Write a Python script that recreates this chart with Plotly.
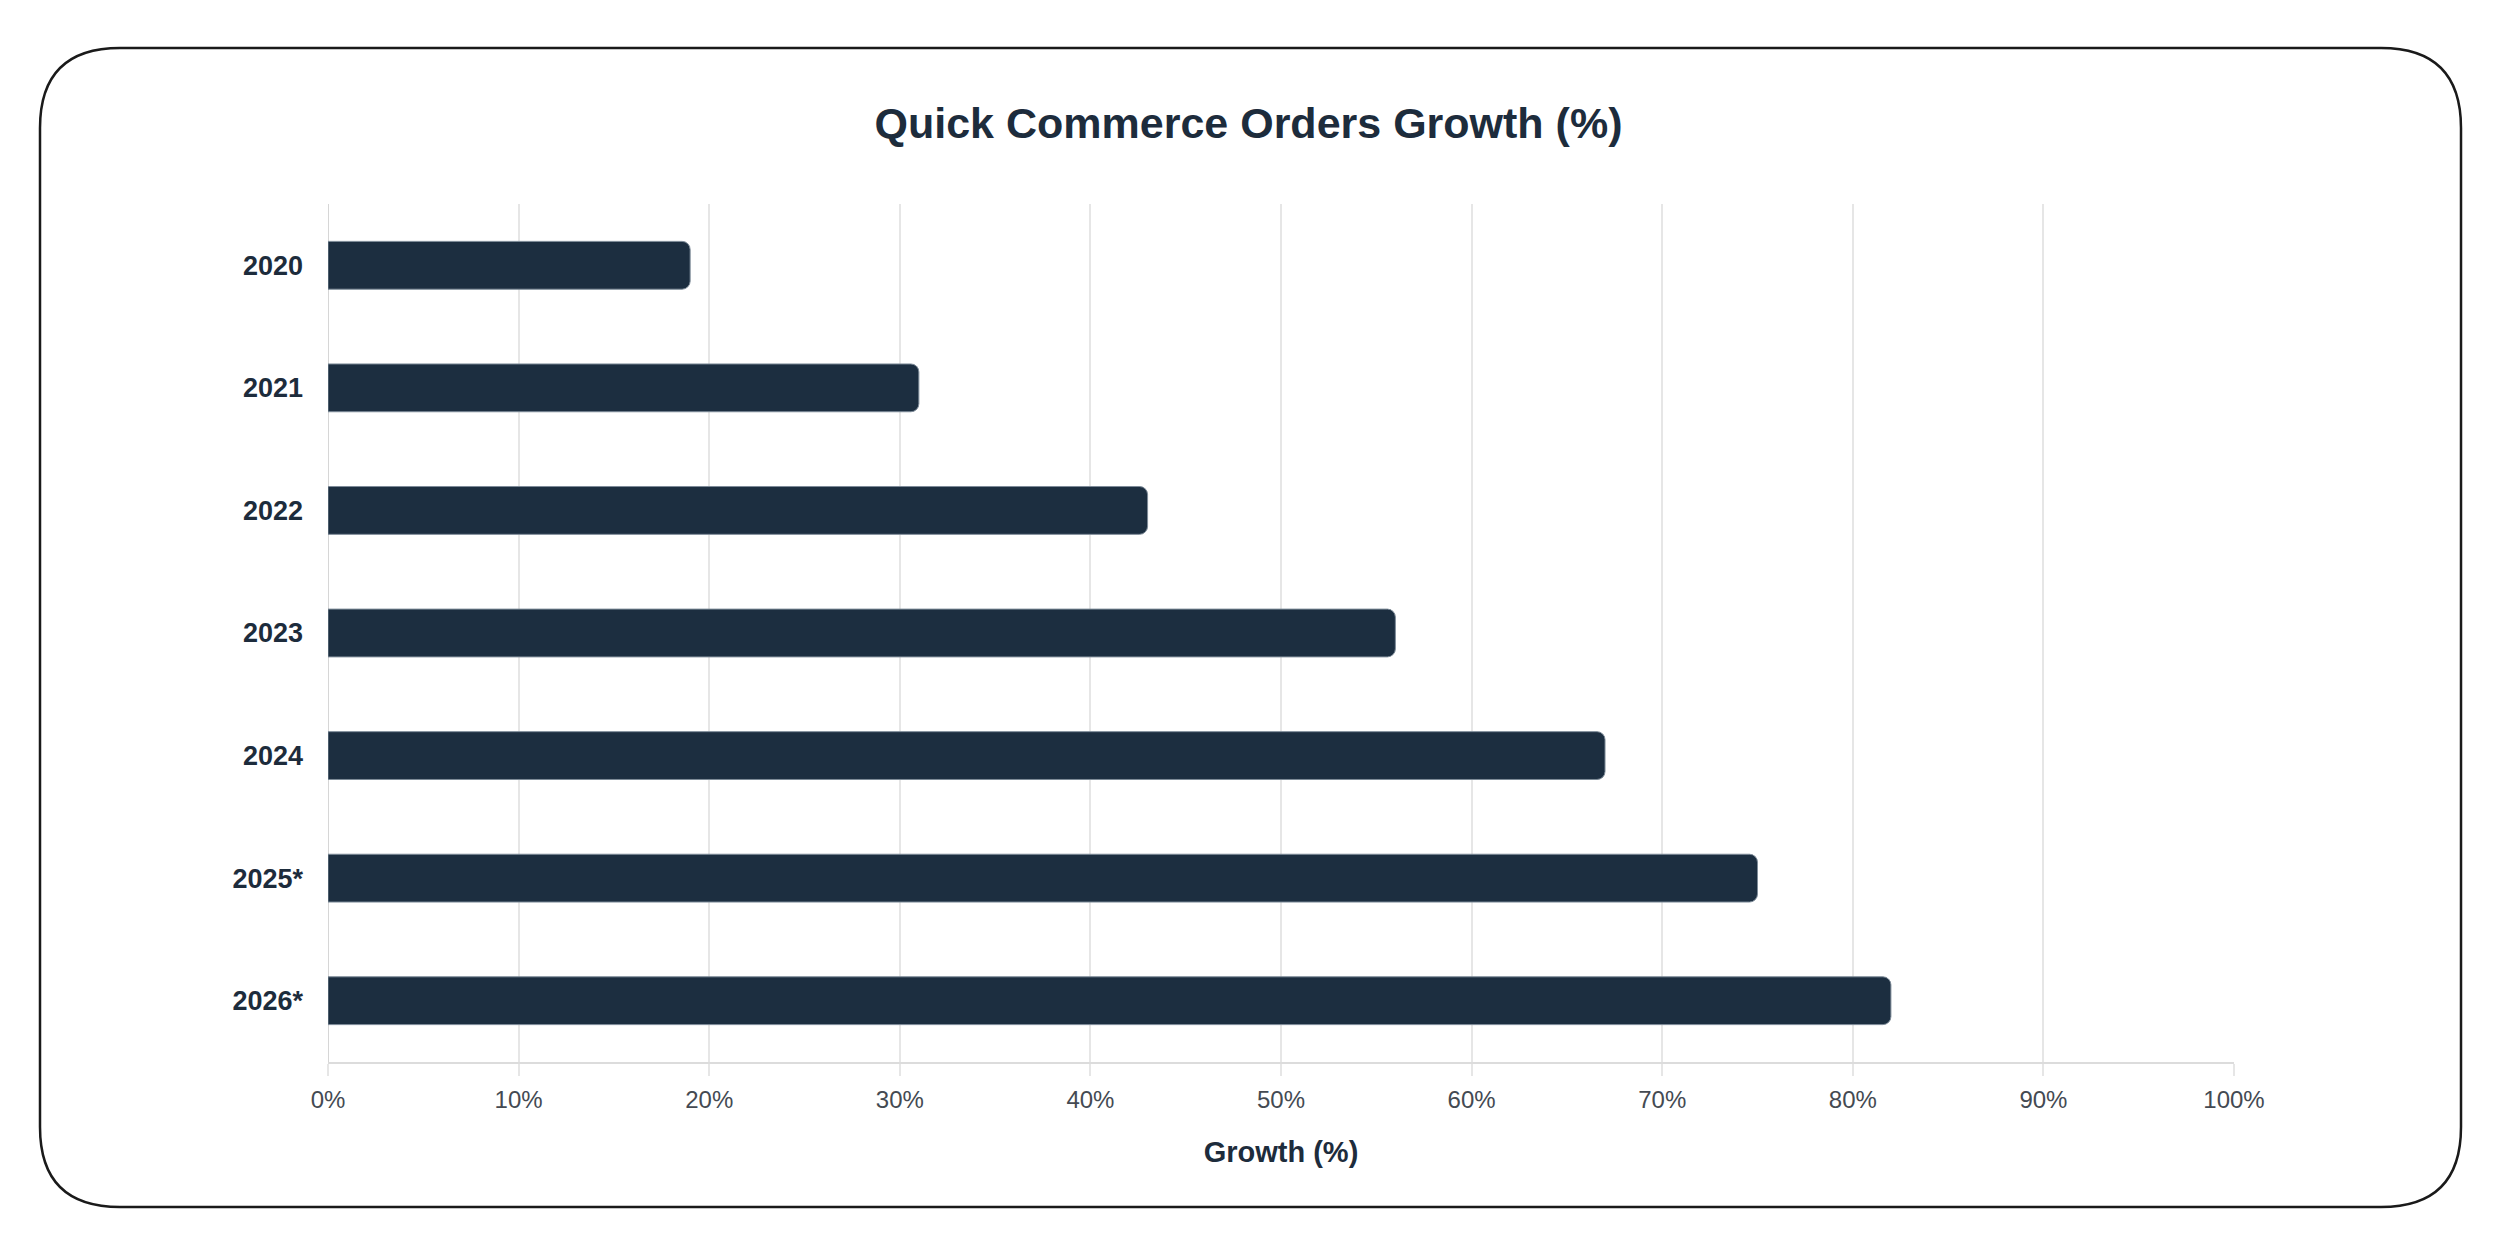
import plotly.graph_objects as go

years = ["2020", "2021", "2022", "2023", "2024", "2025*", "2026*"]
growth = [19, 31, 43, 56, 67, 75, 82]
tick_vals = [0, 10, 20, 30, 40, 50, 60, 70, 80, 90, 100]
tick_text = [f"{v}%" for v in tick_vals]

W, H = 2497, 1240
ML, MR, MT, MB = 328, 263, 204, 178
PW, PH = W - ML - MR, H - MT - MB

def px(x):
    return (x - ML) / PW

def py(y):
    return (H - MB - y) / PH

FONT = "Liberation Sans, Arial, Helvetica, sans-serif"
DARK = "#1d2c3c"

fig = go.Figure()
fig.add_trace(go.Bar(
    y=years, x=growth, orientation="h",
    width=0.39,
    marker=dict(color="#1c2e40", cornerradius=8,
                line=dict(color="#7d8b98", width=1)),
    hoverinfo="x+y",
))

# rounded frame around chart
L, T, R, B, rad = 40, 48, 2461, 1207, 80
path = (
    f"M {px(L + rad)} {py(T)} L {px(R - rad)} {py(T)} "
    f"Q {px(R)} {py(T)} {px(R)} {py(T + rad)} "
    f"L {px(R)} {py(B - rad)} "
    f"Q {px(R)} {py(B)} {px(R - rad)} {py(B)} "
    f"L {px(L + rad)} {py(B)} "
    f"Q {px(L)} {py(B)} {px(L)} {py(B - rad)} "
    f"L {px(L)} {py(T + rad)} "
    f"Q {px(L)} {py(T)} {px(L + rad)} {py(T)} Z"
)
fig.add_shape(type="path", path=path, xref="paper", yref="paper",
              line=dict(color="#1a1a1a", width=2.5), layer="below")

fig.update_layout(
    width=W, height=H,
    margin=dict(l=ML, r=MR, t=MT, b=MB),
    paper_bgcolor="white", plot_bgcolor="white",
    showlegend=False,
    bargap=0.61,
    title=dict(text="<b>Quick Commerce Orders Growth (%)</b>",
               x=0.5, xanchor="center", y=1 - 123 / H, yanchor="middle",
               xref="container", yref="container",
               font=dict(family=FONT, size=43, color=DARK)),
    xaxis=dict(
        range=[0, 100], tickvals=tick_vals, ticktext=tick_text,
        showgrid=True, gridcolor="#e6e6e6", gridwidth=1.5,
        zeroline=False,
        showline=True, linecolor="#dcdcdc", linewidth=2,
        ticks="outside", ticklen=12, tickcolor="#e6e6e6", tickwidth=1.5,
        ticklabelstandoff=3,
        tickfont=dict(family=FONT, size=24, color="#444a52"),
        title=dict(text="<b>Growth (%)</b>", standoff=30,
                   font=dict(family=FONT, size=29, color=DARK)),
        fixedrange=True, automargin=False,
    ),
    yaxis=dict(
        categoryorder="array", categoryarray=years,
        autorange="reversed",
        showgrid=False, zeroline=False,
        showline=False,
        ticks="", ticklabelstandoff=24,
        tickfont=dict(family=FONT, size=27, color=DARK),
        tickprefix="<b>", ticksuffix="</b>",
        fixedrange=True, automargin=False,
    ),
)
# y-axis line at 0
fig.add_shape(type="line", xref="x", yref="paper", x0=0, x1=0, y0=0, y1=1,
              line=dict(color="#d6d6d6", width=2), layer="below")

fig.write_html("out.html")
